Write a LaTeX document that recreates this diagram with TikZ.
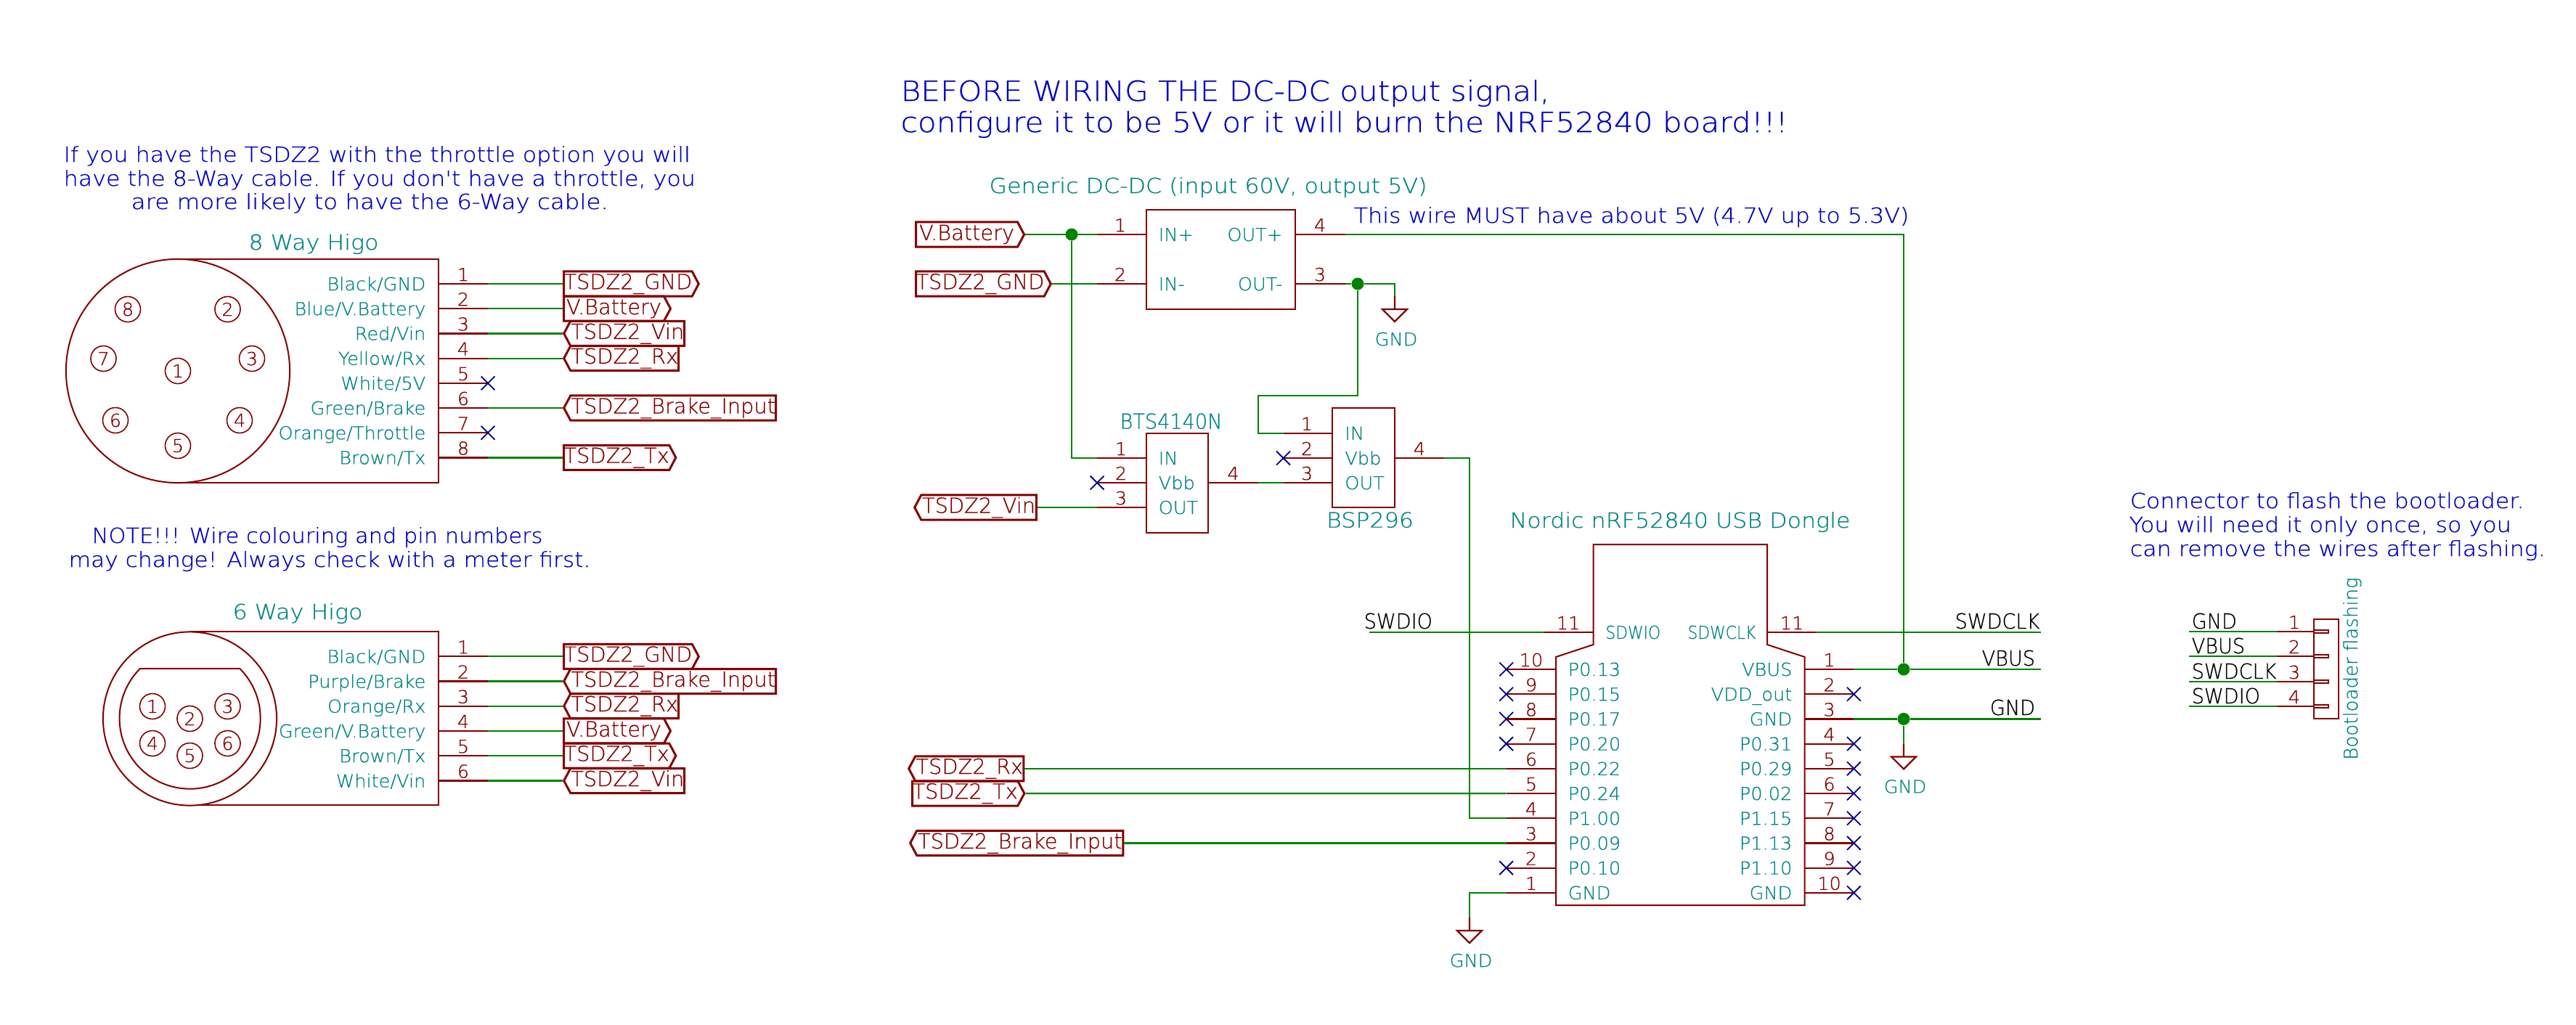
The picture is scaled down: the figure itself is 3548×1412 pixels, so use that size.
\documentclass[tikz,border=0pt]{standalone}
\usepackage{fontspec}
\setmainfont{DejaVu Sans ExtraLight}[FakeBold=0.5]
\newfontfamily\notefont{DejaVu Sans ExtraLight}[FakeStretch=1.1,FakeBold=0.5]
\newfontfamily\pinfont{DejaVu Sans ExtraLight}[FakeStretch=1.04,FakeBold=0.5]
\newfontfamily\netfont{DejaVu Sans ExtraLight}[FakeStretch=0.94,FakeBold=0.5]
\newfontfamily\capfont{DejaVu Sans ExtraLight}[FakeStretch=0.885,FakeBold=0.5]
\usetikzlibrary{shapes.symbols, shapes.misc}
\definecolor{pinred}{RGB}{132,0,0}
\definecolor{wiregreen}{RGB}{0,132,0}
\definecolor{fieldteal}{RGB}{0,132,132}
\definecolor{ncblue}{RGB}{0,0,132}
\definecolor{noteblue}{RGB}{0,0,194}
\tikzset{
  bodyline/.style={draw=pinred, line width=0.02cm},
  pinline/.style={draw=pinred, line width=0.022cm},
  wire/.style={draw=wiregreen, line width=0.022cm},
  smalltxt/.style={inner sep=0pt, font=\pinfont\fontsize{7}{8}\selectfont},
  bigtxt/.style={inner sep=0pt, font=\notefont\fontsize{8.2}{10}\selectfont},
  pinnum/.style={smalltxt, text=pinred, anchor=base},
  pinname/.style={smalltxt, text=fieldteal},
  fieldtxt/.style={bigtxt, text=fieldteal, anchor=base},
  notetxt/.style={bigtxt, text=noteblue, anchor=base west},
  warntxt/.style={inner sep=0pt, text=noteblue, anchor=base west, font=\notefont\fontsize{10.9}{13}\selectfont},
  netlabel/.style={inner sep=0pt, text=black, font=\netfont\fontsize{8.2}{10}\selectfont},
  hlabel/.style={shape=signal, draw=pinred, line width=0.03cm, text=pinred,
    inner sep=0pt, font=\rmfamily\fontsize{8.2}{10}\selectfont,
    minimum height=0.34cm, signal pointer angle=124, anchor=west},
  ncmark/.style={cross out, draw=ncblue, line width=0.018cm, inner sep=0pt, minimum size=0.17cm},
  junct/.style={circle, fill=wiregreen, inner sep=0pt, minimum size=0.17cm},
  digitcirc/.style={circle, draw=pinred, line width=0.016cm, text=pinred, smalltxt, minimum size=0.35cm}
}
\begin{document}
\begin{tikzpicture}[x=0.01cm, y=-0.01cm]
    \useasboundingbox (0,0) rectangle (3548,1412);
    \fill[white] (0,0) rectangle (3548,1412);

    % Notes
    \node[notetxt] (noteA) at (87,223) {If you have the TSDZ2 with the throttle option you will};
    \node[notetxt] (noteB) at (87,256) {have the 8-Way cable. If you don't have a throttle, you};
    \node[notetxt] (noteC) at (180,288) {\scalebox{1.025}[1]{are more likely to have the 6-Way cable.}};
    \node[notetxt] (noteD) at (126,748) {\scalebox{0.96}[1]{NOTE!!! Wire colouring and pin numbers}};
    \node[notetxt] (noteE) at (94,781) {\scalebox{0.985}[1]{may change! Always check with a meter first.}};
    \node[warntxt] (warnA) at (1240,139) {BEFORE WIRING THE DC-DC output signal,};
    \node[warntxt] (warnB) at (1240,182) {configure it to be 5V or it will burn the NRF52840 board!!!};
    \node[notetxt] (noteF) at (1864,307) {This wire MUST have about 5V (4.7V up to 5.3V)};
    \node[notetxt] (noteG) at (2933,700) {Connector to flash the bootloader.};
    \node[notetxt] (noteH) at (2932,733) {You will need it only once, so you};
    \node[notetxt] (noteI) at (2933,766) {can remove the wires after flashing.};

    % 8 way connector
    \node[fieldtxt] (eightname) at (432,344) {8 Way Higo};
    \draw[bodyline] (245,357) -- (604,357) -- (604,665) -- (245,665);
    \draw[bodyline, fill=white] (245,511) circle (1.54cm);
    \foreach \n/\cx/\cy in {1/245/511, 2/313.5/426, 3/347/494, 4/330/579, 5/245/614, 6/159/579, 7/142.5/494, 8/176/426}
        \node[digitcirc] (ec\n) at (\cx,\cy) {\n};
    \foreach \n/\yy/\lab in {1/391/{Black/GND}, 2/425.2/{Blue/V.Battery}, 3/459.4/{Red/Vin}, 4/493.6/{Yellow/Rx},
        5/527.8/{White/5V}, 6/562/{Green/Brake}, 7/596.2/{Orange/Throttle}, 8/630.4/{Brown/Tx}} {
        \coordinate (ep\n) at (672,\yy);
        \draw[pinline] (604,\yy) -- (ep\n);
        \node[pinnum] (en\n) at (638,\yy-4) {\n};
        \node[pinname, anchor=base east] (el\n) at (587,\yy+9) {\lab};
    }
    \node[ncmark] (enc5) at (ep5) {};
    \node[ncmark] (enc7) at (ep7) {};
    \foreach \nm/\yy/\side/\lw/\txt in {egnd/391/east/181/TSDZ2\_GND, ebat/425.2/east/147/V.Battery,
        evin/459.4/west/166/TSDZ2\_Vin, erx/493.6/west/158/TSDZ2\_Rx,
        ebrk/562/west/292/TSDZ2\_Brake\_Input, etx/630.4/east/152/TSDZ2\_Tx}
        \node[hlabel, signal to=\side, minimum width=\lw*0.01cm] (\nm) at (775,\yy) {\txt};
    \foreach \a/\b in {1/egnd, 2/ebat, 3/evin, 4/erx, 6/ebrk, 8/etx}
        \draw[wire] (ep\a) -- (\b.west);

    % 6 way connector
    \node[fieldtxt] (sixname) at (410,853) {6 Way Higo};
    \draw[bodyline] (261.5,870) -- (604,870) -- (604,1109) -- (261.5,1109);
    \draw[bodyline, fill=white] (261.5,990) circle (1.195cm);
    \draw[bodyline] (193,921) arc[start angle=135, end angle=405, radius=0.97cm] -- cycle;
    \foreach \n/\cx/\cy in {1/210/973, 2/261.5/990, 3/313.5/973, 4/210/1024, 5/261.5/1041, 6/313.5/1024}
        \node[digitcirc] (sc\n) at (\cx,\cy) {\n};
    \foreach \n/\yy/\lab in {1/904.3/{Black/GND}, 2/938.5/{Purple/Brake}, 3/972.7/{Orange/Rx},
        4/1006.9/{Green/V.Battery}, 5/1041.1/{Brown/Tx}, 6/1075.5/{White/Vin}} {
        \coordinate (sp\n) at (672,\yy);
        \draw[pinline] (604,\yy) -- (sp\n);
        \node[pinnum] (sn\n) at (638,\yy-4) {\n};
        \node[pinname, anchor=base east] (sl\n) at (587,\yy+9) {\lab};
    }
    \foreach \nm/\yy/\side/\lw/\txt in {sgnd/904.3/east/181/TSDZ2\_GND, sbrk/938.5/west/292/TSDZ2\_Brake\_Input,
        srx/972.7/west/158/TSDZ2\_Rx, sbat/1006.9/east/147/V.Battery,
        stx/1041.1/east/152/TSDZ2\_Tx, svin/1075.5/west/166/TSDZ2\_Vin}
        \node[hlabel, signal to=\side, minimum width=\lw*0.01cm] (\nm) at (775,\yy) {\txt};
    \foreach \a/\b in {1/sgnd, 2/sbrk, 3/srx, 4/sbat, 5/stx, 6/svin}
        \draw[wire] (sp\a) -- (\b.west);

    % DC-DC
    \node[fieldtxt] (dcname) at (1664,266) {Generic DC-DC (input 60V, output 5V)};
    \draw[bodyline] (1578.5,289) rectangle (1784,426);
    \foreach \n/\yy/\lab in {1/323/IN+, 2/391/IN-} {
        \coordinate (dc\n) at (1510.5,\yy);
        \draw[pinline] (1578.5,\yy) -- (dc\n);
        \node[pinnum] (dcn\n) at (1543,\yy-4) {\n};
        \node[pinname, anchor=base west] (dcl\n) at (1595,\yy+9) {\lab};
    }
    \foreach \n/\yy/\lab in {4/323/OUT+, 3/391/OUT-} {
        \coordinate (dc\n) at (1853,\yy);
        \draw[pinline] (1784,\yy) -- (dc\n);
        \node[pinnum] (dcn\n) at (1818,\yy-4) {\n};
        \node[pinname, anchor=base east] (dcl\n) at (1767,\yy+9) {\lab};
    }
    \node[hlabel, signal to=east, minimum width=1.49cm] (dcbat) at (1260,323) {V.Battery};
    \node[hlabel, signal to=east, minimum width=1.816cm] (dcgnd) at (1260,391) {TSDZ2\_GND};

    % BTS4140N
    \node[fieldtxt, font=\netfont\fontsize{8.2}{10}\selectfont] (btsname) at (1613,590.7) {BTS4140N};
    \draw[bodyline] (1578.7,596.7) rectangle (1664.4,734);
    \foreach \n/\yy/\lab in {1/631/IN, 2/665/Vbb, 3/699/OUT} {
        \coordinate (bts\n) at (1511,\yy);
        \draw[pinline] (1578.7,\yy) -- (bts\n);
        \node[pinnum] (btsn\n) at (1544,\yy-4) {\n};
        \node[pinname, anchor=base west] (btsl\n) at (1595,\yy+9) {\lab};
    }
    \coordinate (bts4) at (1733,665);
    \draw[pinline] (1664.4,665) -- (bts4);
    \node[pinnum] (btsn4) at (1698.6,661) {4};
    \node[ncmark] (btsnc) at (bts2) {};
    \node[hlabel, signal to=west, minimum width=1.676cm] (btsvin) at (1258,699) {TSDZ2\_Vin};

    % BSP296
    \node[fieldtxt] (bspname) at (1887,726.7) {BSP296};
    \draw[bodyline] (1835,562) rectangle (1921,699);
    \foreach \n/\yy/\lab in {1/596.7/IN, 2/631/Vbb, 3/665/OUT} {
        \coordinate (bsp\n) at (1767.5,\yy);
        \draw[pinline] (1835,\yy) -- (bsp\n);
        \node[pinnum] (bspn\n) at (1800,\yy-4) {\n};
        \node[pinname, anchor=base west] (bspl\n) at (1851.6,\yy+9) {\lab};
    }
    \coordinate (bsp4) at (1989,631);
    \draw[pinline] (1921,631) -- (bsp4);
    \node[pinnum] (bspn4) at (1955,627) {4};
    \node[ncmark] (bspnc) at (bsp2) {};

    % Dongle
    \node[fieldtxt] (dongname) at (2314,727) {Nordic nRF52840 USB Dongle};
    \draw[bodyline] (2194.6,750) -- (2434,750) -- (2434,888) -- (2485.6,905) -- (2485.6,1247)
        -- (2143,1247) -- (2143,905) -- (2194.6,888) -- cycle;
    \coordinate (swl) at (2126,871);
    \coordinate (swr) at (2502,871);
    \draw[pinline] (2194.6,871) -- (swl);
    \draw[pinline] (2434,871) -- (swr);
    \node[pinnum] (swln) at (2160,867) {11};
    \node[pinnum] (swrn) at (2468,867) {11};
    \node[pinname, font=\capfont\fontsize{7}{8}\selectfont, anchor=base west] (swll) at (2210.7,880) {SDWIO};
    \node[pinname, font=\capfont\fontsize{7}{8}\selectfont, anchor=base east] (swrl) at (2419,880) {SDWCLK};
    \foreach \n/\lab [count=\i from 0] in {10/P0.13, 9/P0.15, 8/P0.17, 7/P0.20, 6/P0.22, 5/P0.24, 4/P1.00, 3/P0.09, 2/P0.10, 1/GND} {
        \pgfmathsetmacro{\yy}{922+34.2*\i}
        \coordinate (ul\n) at (2074.6,\yy);
        \draw[pinline] (2143,\yy) -- (ul\n);
        \node[pinnum] (uln\n) at (2109,\yy-4) {\n};
        \node[pinname, anchor=base west] (ull\n) at (2159,\yy+9) {\lab};
    }
    \foreach \n/\lab [count=\i from 0] in {1/VBUS, 2/VDD\_out, 3/GND, 4/P0.31, 5/P0.29, 6/P0.02, 7/P1.15, 8/P1.13, 9/P1.10, 10/GND} {
        \pgfmathsetmacro{\yy}{922+34.2*\i}
        \coordinate (ur\n) at (2553.4,\yy);
        \draw[pinline] (2485.6,\yy) -- (ur\n);
        \node[pinnum] (urn\n) at (2519.5,\yy-4) {\n};
        \node[pinname, anchor=base east] (url\n) at (2469,\yy+9) {\lab};
    }
    \foreach \n in {10,9,8,7,2}
        \node[ncmark] (ulnc\n) at (ul\n) {};
    \foreach \n in {2,4,5,6,7,8,9,10}
        \node[ncmark] (urnc\n) at (ur\n) {};
    \node[hlabel, signal to=west, minimum width=1.58cm] (urx) at (1250,1058.8) {TSDZ2\_Rx};
    \node[hlabel, signal to=east, minimum width=1.53cm] (utx) at (1255,1093) {TSDZ2\_Tx};
    \node[hlabel, signal to=west, minimum width=2.93cm] (ubrk) at (1252,1161.4) {TSDZ2\_Brake\_Input};

    % GND symbols
    \foreach \nm/\gx/\gy in {gndA/1921/408, gndB/2622/1024.4, gndC/2024/1264} {
        \coordinate (\nm) at (\gx,\gy);
        \draw[pinline] (\nm) -- (\gx,\gy+18) ++(-17,0) -- ++(34,0) -- ++(-17,17) -- cycle;
        \node[pinname, anchor=base] (\nm txt) at (\gx+2,\gy+68) {GND};
    }

    % Net labels on the dongle
    \node[netlabel, anchor=base east] (swdclk) at (2810,866) {SWDCLK};
    \node[netlabel, anchor=base east] (vbus) at (2803.7,917) {VBUS};
    \node[netlabel, anchor=base east] (gndnet) at (2803.7,985) {GND};
    \node[netlabel, anchor=base west] (swdio) at (1878,866) {SWDIO};
    \coordinate (swdclkend) at (2811,871);
    \coordinate (vbusend) at (2811,922);
    \coordinate (gndend) at (2811,990.4);
    \coordinate (swdioend) at (1886,871);

    % Wires
    \coordinate (bend) at (1733,545);
    \coordinate (drop) at (2023.6,631);
    \node[junct] (j1) at (1476,323) {};
    \node[junct] (j2) at (1870,391) {};
    \node[junct] (j3) at (2622,922) {};
    \node[junct] (j4) at (2622,990.4) {};
    \draw[wire] (dcbat.east) -- (dc1);
    \draw[wire] (dcgnd.east) -- (dc2);
    \draw[wire] (j1) |- (bts1);
    \draw[wire] (dc3) -- (j2) -| (gndA);
    \draw[wire] (j2) |- (bend) |- (bsp1);
    \draw[wire] (bts4) -- (bsp3);
    \draw[wire] (btsvin.east) -- (bts3);
    \draw[wire] (dc4) -| (j3);
    \draw[wire] (ur1) -- (j3) -- (vbusend);
    \draw[wire] (ur3) -- (j4) -- (gndend);
    \draw[wire] (j4) -- (gndB);
    \draw[wire] (swr) -- (swdclkend);
    \draw[wire] (swdioend) -- (swl);
    \draw[wire] (bsp4) -- (drop) |- (ul4);
    \draw[wire] (urx.east) -- (ul6);
    \draw[wire] (utx.east) -- (ul5);
    \draw[wire] (ubrk.east) -- (ul3);
    \draw[wire] (ul1) -| (gndC);

    % Bootloader connector
    \node[inner sep=0pt, font=\rmfamily\fontsize{7.4}{9}\selectfont, text=fieldteal, rotate=90, anchor=base] (bootname) at (3247,921) {Bootloader flashing};
    \draw[bodyline] (3186.5,853) rectangle (3221,990);
    \foreach \n/\yy/\lab in {1/870/GND, 2/904/VBUS, 3/939/SWDCLK, 4/973/SWDIO} {
        \coordinate (cp\n) at (3136,\yy);
        \coordinate (cw\n) at (3015,\yy);
        \draw[pinline] (3186.5,\yy) -- (cp\n);
        \draw[bodyline] (3186.5,\yy-2) rectangle (3207,\yy+2);
        \draw[wire] (cw\n) -- (cp\n);
        \node[pinnum] (cn\n) at (3160,\yy-4) {\n};
        \node[netlabel, anchor=base west] (cl\n) at (3018,\yy-4) {\lab};
    }
\end{tikzpicture}
\end{document}
